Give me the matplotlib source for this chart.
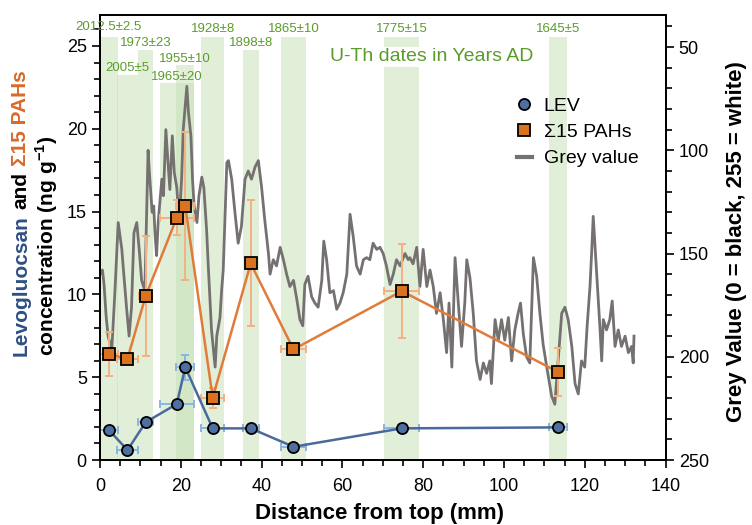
import matplotlib
matplotlib.use("Agg")
import matplotlib.pyplot as plt
from matplotlib.lines import Line2D
from matplotlib.patches import Rectangle
from matplotlib.ticker import MultipleLocator

plt.rcParams['font.family'] = ['Liberation Sans', 'DejaVu Sans']
plt.rcParams['mathtext.fontset'] = 'custom'
plt.rcParams['mathtext.rm'] = 'Liberation Sans'
plt.rcParams['mathtext.bf'] = 'Liberation Sans:bold'

# samples: distance from top (mm) and half width of each sample
dist = [2.2, 6.8, 11.3, 19.0, 21.1, 27.9, 37.3, 47.9, 74.7, 113.3]
dist_err = [2.2, 2.5, 1.9, 4.2, 2.2, 2.9, 2.0, 3.2, 4.35, 2.25]
lev = [1.81, 0.6, 2.28, 3.38, 5.6, 1.91, 1.91, 0.8, 1.91, 1.97]
lev_err = [0.1, 0.1, 0.1, 0.1, 0.75, 0.1, 0.1, 0.1, 0.2, 0.1]
pah = [6.38, 6.12, 9.9, 14.63, 15.34, 3.76, 11.87, 6.68, 10.2, 5.33]
pah_err = [1.33, 0.3, 3.6, 1.05, 4.45, 0.6, 3.8, 0.3, 2.83, 1.44]
pah_xerr = [2.2, 2.5, 1.6, 4.2, 2.2, 2.9, 0.0, 3.2, 4.35, 1.5]

# U-Th dates, one per sample band
uth_dates = ['2012.5±2.5', '2005±5', '1973±23', '1965±20', '1955±10',
             '1928±8', '1898±8', '1865±10', '1775±15', '1645±5']
band_top = [25.54, 23.25, 24.76, 22.77, 23.85, 25.54, 24.76, 25.54, 25.54, 25.54]
label_y = [26.15, 23.67, 25.18, 23.13, 24.21, 26.03, 25.18, 26.03, 26.03, 26.03]

# grey value profile
grey_mm = [0.0, 0.6, 1.0, 1.5, 2.0, 2.9, 3.7, 4.5, 5.4, 5.8, 6.6, 7.2, 7.8, 8.4,
           9.1, 9.7, 10.3, 11.1, 11.6, 11.9, 12.2, 12.9, 13.3, 13.6, 14.0, 14.4,
           15.3, 15.7, 16.3, 16.8, 17.3, 17.9, 18.4, 19.0, 19.6, 20.2, 20.6, 21.5,
           21.9, 22.5, 22.9, 23.3, 24.0, 24.5, 25.2, 25.7, 26.4, 26.8, 27.2, 27.6,
           28.5, 28.9, 29.7, 30.1, 30.5, 31.4, 31.8, 32.6, 33.4, 34.2, 35.0, 35.9,
           36.7, 37.5, 38.4, 39.2, 40.0, 40.8, 41.7, 42.1, 42.9, 43.7, 44.6, 45.4,
           46.2, 47.0, 47.9, 48.7, 49.5, 50.2, 50.7, 51.5, 52.4, 53.2, 54.0, 54.9,
           55.4, 56.1, 56.9, 57.8, 58.6, 59.4, 60.2, 61.1, 61.9, 62.7, 63.5, 64.4,
           65.2, 66.0, 66.8, 67.6, 68.5, 69.3, 70.1, 70.9, 71.8, 72.6, 73.4, 74.3,
           75.5, 76.3, 76.7, 77.5, 78.4, 79.2, 80.0, 80.9, 81.7, 82.5, 83.3, 84.2,
           85.0, 85.8, 86.4, 87.1, 87.9, 88.7, 89.5, 90.3, 90.8, 91.6, 92.4, 93.2,
           94.1, 94.9, 95.7, 96.5, 96.9, 97.8, 98.6, 99.4, 100.2, 101.1, 101.9,
           102.7, 103.5, 104.1, 104.8, 105.6, 106.4, 107.3, 108.1, 108.9, 109.7,
           110.6, 111.8, 112.6, 113.4, 114.3, 115.1, 115.9, 116.8, 117.6, 118.4,
           119.2, 120.0, 120.6, 121.3, 121.7, 122.1, 123.0, 123.8, 124.2, 124.6,
           125.4, 126.2, 126.8, 127.5, 128.3, 129.1, 130.0, 130.8, 131.6, 132.0, 132.2]
grey_val = [160, 158, 165, 180, 190, 197, 168, 135, 148, 158, 177, 190, 176, 140,
            135, 148, 163, 168, 124, 100, 110, 130, 127, 140, 151, 135,
            114, 122, 90, 105, 119, 93, 111, 118, 134, 114, 90, 69,
            82, 93, 114, 127, 135, 122, 113, 118, 139, 156, 171, 187,
            205, 190, 181, 168, 158, 106, 105, 114, 130, 145, 137, 114,
            110, 114, 108, 105, 118, 134, 150, 160, 153, 156, 147, 153,
            160, 166, 163, 172, 182, 185, 165, 161, 171, 174, 176, 163,
            144, 153, 169, 168, 177, 174, 169, 160, 131, 142, 156, 160,
            153, 152, 153, 145, 148, 147, 150, 156, 165, 160, 153, 156,
            150, 153, 152, 155, 147, 166, 148, 166, 158, 166, 179, 169,
            182, 198, 174, 205, 152, 174, 195, 174, 153, 162, 179, 202,
            211, 203, 208, 202, 213, 182, 192, 182, 192, 181, 202,
            187, 179, 174, 189, 200, 203, 152, 161, 179, 194,
            205, 219, 223, 202, 179, 176, 182, 195, 213, 218,
            202, 205, 185, 166, 150, 132, 161, 187, 202, 182,
            187, 182, 173, 195, 187, 195, 190, 198, 195, 203, 190]

blue = '#2f5086'
orange = '#d8692a'
green = '#5b9b2b'

fig = plt.figure(figsize=(7.52, 5.25), dpi=100)
ax = fig.add_axes([0.133, 0.1238, 0.752, 0.8476])
ax2 = ax.twinx()
ax.set_zorder(2)
ax2.set_zorder(1)
ax.patch.set_visible(False)

# date bands (drawn behind the grey line, in left-axis units)
for x, e, top in zip(dist, dist_err, band_top):
    ax2.add_patch(Rectangle((x - e, 0), 2 * e, top, transform=ax.transData,
                            facecolor='#c5e0b4', alpha=0.5, lw=0))

ax2.plot(grey_mm, grey_val, color='#767171', lw=2)
ax2.set_ylim(250, 34.5)

ax.errorbar(dist, pah, xerr=pah_xerr, yerr=pah_err, fmt='none', ecolor='#f4b183',
            elinewidth=1.4, capsize=3, capthick=1.4)
ax.errorbar(dist, lev, xerr=dist_err, yerr=lev_err, fmt='none', ecolor='#8db3e2',
            elinewidth=1.4, capsize=3, capthick=1.4)
ax.plot(dist, pah, '-', color='#e07b39', lw=1.8)
ax.plot(dist, lev, '-', color='#4a6a9c', lw=1.8)
ax.plot(dist, pah, 's', mfc='#d9731f', mec='black', ms=8, mew=1.3)
ax.plot(dist, lev, 'o', mfc='#4f6fa0', mec='black', ms=8, mew=1.3)

for x, d, y in zip(dist, uth_dates, label_y):
    ax.text(x, y, d, ha='center', va='center', color=green, fontsize=9.5)
ax.text(82.2, 24.34, 'U-Th dates in Years AD', ha='center', va='center', color=green,
        fontsize=14, bbox=dict(facecolor='white', edgecolor='none', pad=1))

ax.set_xlim(0, 140)
ax.set_ylim(0, 26.87)
ax.xaxis.set_major_locator(MultipleLocator(20))
ax.xaxis.set_minor_locator(MultipleLocator(5))
ax.yaxis.set_major_locator(MultipleLocator(5))
ax.yaxis.set_minor_locator(MultipleLocator(1))
ax2.yaxis.set_major_locator(MultipleLocator(50))
ax2.yaxis.set_minor_locator(MultipleLocator(10))
for a in (ax, ax2):
    a.tick_params(which='major', direction='out', length=6, width=1.2, labelsize=13)
    a.tick_params(which='minor', direction='out', length=4, width=1.2)
    for s in a.spines.values():
        s.set_linewidth(1.3)
ax.tick_params(axis='x', which='major', pad=7)

handles = [Line2D([], [], ls='none', marker='o', mfc='#4f6fa0', mec='black', ms=8, mew=1.3),
           Line2D([], [], ls='none', marker='s', mfc='#d9731f', mec='black', ms=8, mew=1.3),
           Line2D([], [], color='#767171', lw=3)]
ax.legend(handles, ['LEV', 'Σ15 PAHs', 'Grey value'], loc='upper left',
          bbox_to_anchor=(0.687, 0.815), bbox_transform=fig.transFigure, frameon=False,
          fontsize=14, handlelength=0.8, handletextpad=0.6, labelspacing=0.45,
          borderpad=0, borderaxespad=0)

fig.text(0.504, 0.022, 'Distance from top (mm)', ha='center', va='center',
         fontsize=16, fontweight='bold')
fig.text(0.98, 0.54, 'Grey Value (0 = black, 255 = white)', ha='center', va='center',
         rotation=90, fontsize=16, fontweight='bold')

# two-colour left label
fig.canvas.draw()
r = fig.canvas.get_renderer()
lab = dict(fontsize=15, fontweight='bold')


def text_w(s):
    t = fig.text(0, 0, s, **lab)
    w = t.get_window_extent(r).width
    t.remove()
    return w


full = 'Levogluocsan and Σ15 PAHs'
pieces = [('Levogluocsan', blue, 'Levogluocsan'),
          ('and', 'black', 'Levogluocsan and'),
          ('Σ15 PAHs', orange, full)]
W = text_w(full)
y0 = 312 - W / 2
for s, c, prefix in pieces:
    off = text_w(prefix) - text_w(s)
    fig.text(21 / 752, (y0 + off) / 525, s, color=c, rotation=90, rotation_mode='anchor',
             ha='left', va='center', **lab)
fig.text(47 / 752, 279 / 525, r'concentration (ng g$^{\mathbf{-1}}$)', rotation=90,
         ha='center', va='center', **lab)

fig.savefig('out.png', dpi=100)
